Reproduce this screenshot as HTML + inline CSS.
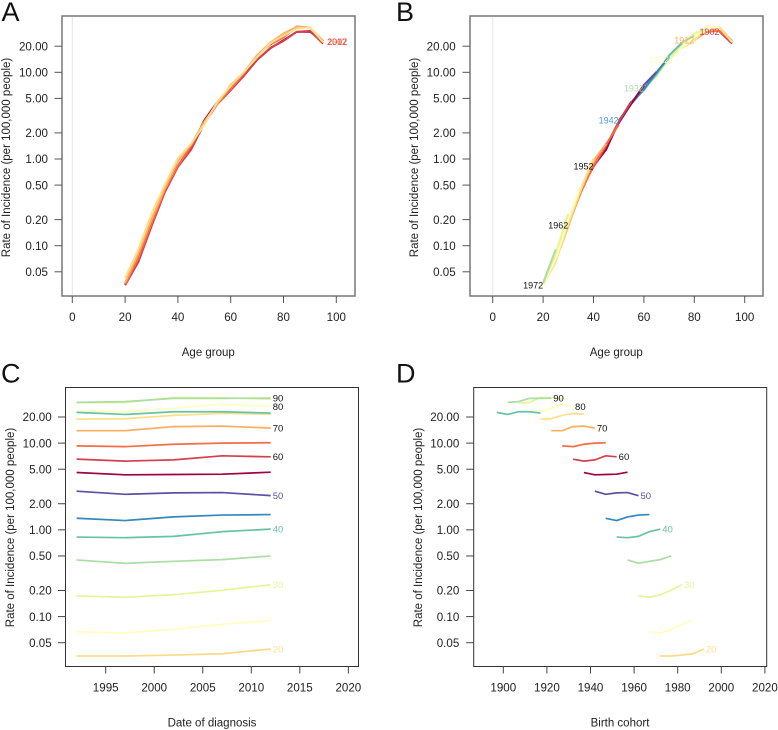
<!DOCTYPE html>
<html lang="en">
<head>
<meta charset="utf-8">
<title>Rate of incidence by age, period and cohort</title>
<style>
html,body{margin:0;padding:0;background:#fff;width:778px;height:730px;overflow:hidden}
svg{display:block;font-family:"Liberation Sans",Arial,sans-serif}
.letter{font-size:27px;fill:#111}
.title{font-size:11.5px;fill:#222}
.tick{font-size:11.6px;fill:#222}
.line{fill:none;stroke-linejoin:round;stroke-linecap:butt}
</style>
</head>
<body>
<svg id="figure" width="778" height="730" viewBox="0 0 778 730" xmlns="http://www.w3.org/2000/svg">
  <rect x="0" y="0" width="778" height="730" fill="#fff"/>

  <g id="panel-a">
    <text class="letter" x="1.5" y="21">A</text>
    <text class="title" x="208.3" y="356" text-anchor="middle">Age group</text>
    <text class="title" transform="translate(10,157.5) rotate(-90)" text-anchor="middle">Rate of Incidence (per 100,000 people)</text>
  </g>

  <g id="panel-b">
    <text class="letter" x="396" y="21">B</text>
    <text class="title" x="616.3" y="356" text-anchor="middle">Age group</text>
    <text class="title" transform="translate(418,157.5) rotate(-90)" text-anchor="middle">Rate of Incidence (per 100,000 people)</text>
  </g>

  <g id="panel-c">
    <text class="letter" x="1" y="382.5">C</text>
    <text class="title" x="212" y="726.5" text-anchor="middle">Date of diagnosis</text>
    <text class="title" transform="translate(14,527.5) rotate(-90)" text-anchor="middle">Rate of Incidence (per 100,000 people)</text>
  </g>

  <g id="panel-d">
    <text class="letter" x="396" y="382.5">D</text>
    <text class="title" x="620" y="726.5" text-anchor="middle">Birth cohort</text>
    <text class="title" transform="translate(422,527.5) rotate(-90)" text-anchor="middle">Rate of Incidence (per 100,000 people)</text>
  </g>
</svg>

<script>
// ---- data ----
const ages = [20, 25, 30, 35, 40, 45, 50, 55, 60, 65, 70, 75, 80, 85, 90, 95];
const periods = [1992, 1997, 2002, 2007, 2012];
const rate1992 = [0.0351, 0.067, 0.173, 0.45, 0.826, 1.36, 2.79, 4.58, 6.53, 9.3, 13.9, 18.9, 23.4, 29.3, 29.5, 22.6];
const rate1997 = [0.0351, 0.0646, 0.167, 0.411, 0.812, 1.28, 2.57, 4.31, 6.2, 9.1, 13.9, 19.1, 23.0, 29.3, 30.1, 21.4];
const rate2002 = [0.036, 0.0713, 0.179, 0.434, 0.841, 1.41, 2.67, 4.35, 6.41, 9.7, 15.5, 20.9, 25.2, 33.7, 32.8, 23.0];
const rate2007 = [0.0373, 0.0815, 0.201, 0.454, 0.953, 1.48, 2.69, 4.38, 7.14, 10.0, 15.7, 22.0, 28.0, 33.4, 32.8, 23.0];
const rate2012 = [0.0423, 0.0906, 0.233, 0.5, 1.02, 1.5, 2.48, 4.62, 6.95, 10.1, 14.9, 21.6, 26.5, 32.0, 33.0, 22.2];
const ratesByPeriod = [rate1992, rate1997, rate2002, rate2007, rate2012];

const yTicks = [0.05, 0.1, 0.2, 0.5, 1, 2, 5, 10, 20];
const yTickLabels = ['0.05', '0.10', '0.20', '0.50', '1.00', '2.00', '5.00', '10.00', '20.00'];
const ageTicks = [0, 20, 40, 60, 80, 100];
const dateTicks = [1995, 2000, 2005, 2010, 2015, 2020];
const cohortTicks = [1900, 1920, 1940, 1960, 1980, 2000, 2020];
const labelledAges = [20, 30, 40, 50, 60, 70, 80, 90];
const labelledCohorts = [1902, 1912, 1922, 1932, 1942, 1952, 1962, 1972];

// ---- palettes ----
const spectral = ['#9e0142', '#d53e4f', '#f46d43', '#fdae61', '#fee08b', '#ffffbf', '#e6f598', '#abdda4', '#66c2a5', '#3288bd', '#5e4fa2'];
const ageColors = ['#fed98a', '#ffffbf', '#e6f598', '#abdda4', '#66c2a5', '#3288bd', '#5e4fa2', '#9e0142', '#d53e4f', '#f46d43', '#fdae61', '#fee08b', '#ffffbf', '#e6f598', '#abdda4', '#66c2a5'];
const periodLabelColors = ['#9e0142', '#fee08b', '#fdae61', '#f46d43', '#e8505a'];
const ageLabelColors = ['#fee08b', '#e6f598', '#66c2a5', '#5e4fa2', '#111111', '#111111', '#111111', '#111111'];
const cohortLabelColors = ['#d53e4f', '#fdae61', '#ffffbf', '#abdda4', '#4a9fd4', '#111111', '#111111', '#111111'];

// ---- panel frames ----
const frameA = {id: 'panel-a', key: 'a', l: 62, r: 355, t: 16, b: 296, xRef: 0, xAtRef: 72.3, xPerUnit: 2.64, yAtOne: 159, yPerDecade: 86.7, box: '#777', boxW: 1.5, tickColor: '#555', yTickEnd: 48, xLabelY: 321};
const frameB = {id: 'panel-b', key: 'b', l: 470, r: 763, t: 16, b: 296, xRef: 0, xAtRef: 492.7, xPerUnit: 2.52, yAtOne: 159, yPerDecade: 86.7, box: '#777', boxW: 1.5, tickColor: '#555', yTickEnd: 455.7, xLabelY: 321};
const frameC = {id: 'panel-c', key: 'c', l: 65.5, r: 358.5, t: 387.5, b: 666.5, xRef: 1995, xAtRef: 105.7, xPerUnit: 9.706, yAtOne: 529.85, yPerDecade: 86.74, box: '#333', boxW: 1, tickColor: '#444', yTickEnd: 51.7, xLabelY: 691.7};
const frameD = {id: 'panel-d', key: 'd', l: 473.7, r: 766.7, t: 387.5, b: 666.5, xRef: 1900, xAtRef: 503.3, xPerUnit: 2.18, yAtOne: 529.85, yPerDecade: 86.74, box: '#333', boxW: 1, tickColor: '#444', yTickEnd: 459.3, xLabelY: 691.7};

// ---- axis functions ----
function xAxis(f, v) { return f.xAtRef + f.xPerUnit * (v - f.xRef); }
function yAxis(f, v) { return f.yAtOne - f.yPerDecade * Math.log10(v); }

const SVG_NS = 'http://www.w3.org/2000/svg';
function make(tag, parent) {
  const el = document.createElementNS(SVG_NS, tag);
  parent.appendChild(el);
  return el;
}

function drawFrame(f, xTicks) {
  const g = document.getElementById(f.id);

  const box = make('rect', g);
  
  
  box.setAttribute('x', f.l);
  box.setAttribute('y', f.t);
  box.setAttribute('width', f.r - f.l);
  box.setAttribute('height', f.b - f.t);
  box.setAttribute('fill', 'none');
  box.setAttribute('stroke', f.box);
  box.setAttribute('stroke-width', f.boxW);

  yTicks.forEach(function (v, i) {
    const y = yAxis(f, v);
    const tick = make('line', g);
    
    
    tick.setAttribute('x1', f.l - 7.5);
    tick.setAttribute('x2', f.l);
    tick.setAttribute('y1', y);
    tick.setAttribute('y2', y);
    tick.setAttribute('stroke', f.tickColor);
    tick.setAttribute('stroke-width', 1);

    const label = make('text', g);
    
    
    label.setAttribute('class', 'tick');
    label.setAttribute('x', f.yTickEnd);
    label.setAttribute('y', y + 4.2);
    label.setAttribute('text-anchor', 'end');
    label.textContent = yTickLabels[i];
  });

  xTicks.forEach(function (v) {
    const x = xAxis(f, v);
    const tick = make('line', g);
    
    
    tick.setAttribute('x1', x);
    tick.setAttribute('x2', x);
    tick.setAttribute('y1', f.b);
    tick.setAttribute('y2', f.b + 7);
    tick.setAttribute('stroke', f.tickColor);
    tick.setAttribute('stroke-width', 1);

    const label = make('text', g);
    
    
    label.setAttribute('class', 'tick');
    label.setAttribute('x', x);
    label.setAttribute('y', f.xLabelY);
    label.setAttribute('text-anchor', 'middle');
    label.textContent = String(v);
  });
}

function drawZeroLine(f) {
  const g = document.getElementById(f.id);
  const zero = make('line', g);
  
  
  zero.setAttribute('x1', xAxis(f, 0));
  zero.setAttribute('x2', xAxis(f, 0));
  zero.setAttribute('y1', f.t + 1);
  zero.setAttribute('y2', f.b - 1);
  zero.setAttribute('stroke', '#e4e4e4');
  zero.setAttribute('stroke-width', 1);
}

function drawSeries(f, name, pts, color, width) {
  if (pts.length < 2) { return; }
  const g = document.getElementById(f.id);
  const d = pts.map(function (p, i) {
    return (i ? 'L' : 'M') + xAxis(f, p[0]).toFixed(2) + ' ' + yAxis(f, p[1]).toFixed(2);
  }).join(' ');
  const path = make('path', g);
  
  
  path.setAttribute('class', 'line');
  path.setAttribute('d', d);
  path.setAttribute('stroke', color);
  path.setAttribute('stroke-width', width);
}

function drawLabel(f, name, text, xVal, yVal, dx, anchor, color, size) {
  const g = document.getElementById(f.id);
  const label = make('text', g);
  
  
  label.setAttribute('x', xAxis(f, xVal) + dx);
  label.setAttribute('y', yAxis(f, yVal) + size * 0.36);
  label.setAttribute('text-anchor', anchor);
  label.setAttribute('fill', color);
  label.setAttribute('font-size', size);
  label.textContent = text;
}

// ---- panel A: rate vs age, one line per period ----
drawZeroLine(frameA);
drawFrame(frameA, ageTicks);
periods.forEach(function (period, pi) {
  const pts = ages.map(function (age, ai) { return [age, ratesByPeriod[pi][ai]]; });
  drawSeries(frameA, 'period-line-' + period, pts, spectral[pi], 2);
});
// The period labels sit on top of one another at the mean final rate.
const lastAgeIndex = ages.length - 1;
const meanFinalRate = ratesByPeriod.reduce(function (sum, r) { return sum + r[lastAgeIndex]; }, 0) / periods.length;
periods.forEach(function (period, pi) {
  drawLabel(frameA, 'period-label-' + period, String(period), ages[lastAgeIndex], meanFinalRate, 4, 'start', periodLabelColors[pi], 9);
});

// ---- panel B: rate vs age, one line per birth cohort ----
drawZeroLine(frameB);
drawFrame(frameB, ageTicks);
const cohortPoints = function (cohort) {
  const pts = [];
  ages.forEach(function (age, ai) {
    const pi = periods.indexOf(cohort + age);
    if (pi >= 0) { pts.push([age, ratesByPeriod[pi][ai]]); }
  });
  return pts;
};
for (let cohort = periods[0] - ages[ages.length - 1], i = 0; cohort <= periods[periods.length - 1] - ages[0]; cohort += 5, i++) {
  drawSeries(frameB, 'cohort-line-' + cohort, cohortPoints(cohort), spectral[i % spectral.length], 2);
}
labelledCohorts.forEach(function (cohort, i) {
  const first = cohortPoints(cohort)[0];
  drawLabel(frameB, 'cohort-label-' + cohort, String(cohort), first[0], first[1], 0, 'end', cohortLabelColors[i], 9);
});

// ---- panel C: rate vs diagnosis date, one line per age group ----
drawFrame(frameC, dateTicks);
ages.forEach(function (age, ai) {
  const pts = periods.map(function (period, pi) { return [period, ratesByPeriod[pi][ai]]; });
  drawSeries(frameC, 'age-line-date-' + age, pts, ageColors[ai], 1.7);
});
labelledAges.forEach(function (age, i) {
  const ai = ages.indexOf(age);
  drawLabel(frameC, 'age-label-date-' + age, String(age), periods[periods.length - 1], ratesByPeriod[periods.length - 1][ai], 2, 'start', ageLabelColors[i], 9.5);
});

// ---- panel D: rate vs birth cohort, one line per age group ----
drawFrame(frameD, cohortTicks);
ages.forEach(function (age, ai) {
  const pts = periods.map(function (period, pi) { return [period - age, ratesByPeriod[pi][ai]]; });
  drawSeries(frameD, 'age-line-cohort-' + age, pts, ageColors[ai], 1.7);
});
labelledAges.forEach(function (age, i) {
  const ai = ages.indexOf(age);
  drawLabel(frameD, 'age-label-cohort-' + age, String(age), periods[periods.length - 1] - age, ratesByPeriod[periods.length - 1][ai], 2, 'start', ageLabelColors[i], 9.5);
});
</script>
</body>
</html>
